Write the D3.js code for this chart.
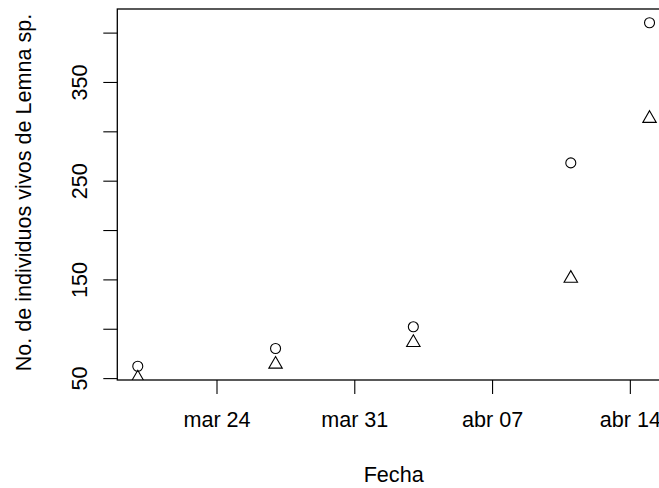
<!DOCTYPE html>
<html>
<head>
<meta charset="utf-8">
<script src="https://cdn.jsdelivr.net/npm/d3@7"></script>
<style>
  html, body { margin: 0; padding: 0; background: #fff; }
  svg { display: block; }
  text { font-family: "Liberation Sans", Arial, Helvetica, sans-serif; fill: #000; }
</style>
</head>
<body>
<svg id="chart" width="659" height="488"></svg>
<script>
// ---- data ----
const dates = ["2022-03-20", "2022-03-27", "2022-04-03", "2022-04-11", "2022-04-15"];
const circleValues = [62, 80, 102, 268, 410];
const triangleValues = [50, 64, 86, 151, 313];
const xTickDates = ["2022-03-24", "2022-03-31", "2022-04-07", "2022-04-14"];
const yTicks = [50, 100, 150, 200, 250, 300, 350, 400];
const yTickLabels = ["50", "", "150", "", "250", "", "350", ""];
const xTitle = "Fecha";
const yTitle = "No. de individuos vivos de Lemna sp.";

// ---- layout ----
const mLeft = 117.3, mRight = 670, mTop = 9, mBottom = 380;
const fontSize = 21.6;
const ptR = 5;

const parse = d3.timeParse("%Y-%m-%d");
const es = d3.timeFormatLocale({
  dateTime: "%A, %e de %B de %Y, %X", date: "%d/%m/%Y", time: "%H:%M:%S",
  periods: ["AM", "PM"],
  days: ["domingo","lunes","martes","miércoles","jueves","viernes","sábado"],
  shortDays: ["dom","lun","mar","mié","jue","vie","sáb"],
  months: ["enero","febrero","marzo","abril","mayo","junio","julio","agosto","septiembre","octubre","noviembre","diciembre"],
  shortMonths: ["ene","feb","mar","abr","may","jun","jul","ago","sep","oct","nov","dic"]
});
const fmt = es.format("%b %d");

const xs = dates.map(parse);
const xExt = d3.extent(xs);
const xPad = (xExt[1] - xExt[0]) * 0.04;
const x = d3.scaleTime()
  .domain([new Date(+xExt[0] - xPad), new Date(+xExt[1] + xPad)])
  .range([mLeft, mRight]);

const yExt = d3.extent(circleValues);
const yPad = (yExt[1] - yExt[0]) * 0.04;
const y = d3.scaleLinear()
  .domain([yExt[0] - yPad, yExt[1] + yPad])
  .range([mBottom, mTop]);

const svg = d3.select("#chart");

svg.append("defs").append("clipPath").attr("id", "plotclip")
  .append("rect").attr("x", mLeft).attr("y", mTop)
  .attr("width", mRight - mLeft).attr("height", mBottom - mTop);

// box
svg.append("rect")
  .attr("x", mLeft).attr("y", mTop)
  .attr("width", mRight - mLeft).attr("height", mBottom - mTop)
  .attr("fill", "none").attr("stroke", "#000").attr("stroke-width", 1.3);

// x axis
const xAxis = d3.axisBottom(x)
  .tickValues(xTickDates.map(parse))
  .tickFormat(fmt)
  .tickSizeInner(14).tickSizeOuter(0).tickPadding(18);
const gx = svg.append("g").attr("transform", `translate(0,${mBottom})`).call(xAxis);
gx.select(".domain").remove();
gx.selectAll(".tick line").attr("stroke", "#000").attr("stroke-width", 1.1);
gx.selectAll(".tick text").attr("font-size", fontSize).attr("font-family", "Liberation Sans, Arial, sans-serif");

// y axis
const yAxis = d3.axisLeft(y)
  .tickValues(yTicks)
  .tickFormat((d, i) => yTickLabels[i])
  .tickSizeInner(14).tickSizeOuter(0);
const gy = svg.append("g").attr("transform", `translate(${mLeft},0)`).call(yAxis);
gy.select(".domain").remove();
gy.selectAll(".tick line").attr("stroke", "#000").attr("stroke-width", 1.1);
gy.selectAll(".tick text")
  .attr("font-size", fontSize)
  .attr("font-family", "Liberation Sans, Arial, sans-serif")
  .attr("text-anchor", "middle")
  .attr("dy", 0)
  .attr("x", 0)
  .attr("transform", `translate(${87 - mLeft},0) rotate(-90)`);

// axis titles
svg.append("text")
  .attr("x", (mLeft + mRight) / 2).attr("y", 481.5)
  .attr("text-anchor", "middle")
  .attr("font-size", fontSize)
  .text(xTitle);

svg.append("text")
  .attr("transform", `translate(31,${(mTop + mBottom) / 2 - 2}) rotate(-90)`)
  .attr("text-anchor", "middle")
  .attr("font-size", fontSize)
  .text(yTitle);

// points
const plot = svg.append("g").attr("clip-path", "url(#plotclip)");

plot.selectAll("circle.c")
  .data(xs.map((d, i) => ({ d, v: circleValues[i] })))
  .join("circle").attr("class", "c")
  .attr("cx", p => x(p.d)).attr("cy", p => y(p.v)).attr("r", ptR)
  .attr("fill", "none").attr("stroke", "#000").attr("stroke-width", 1.1);

const TRC0 = Math.sqrt(4 * Math.PI / (3 * Math.sqrt(3)));
const TRC1 = TRC0 * Math.sqrt(3) / 2;
const TRC2 = TRC0 / 2;
plot.selectAll("path.t")
  .data(xs.map((d, i) => ({ d, v: triangleValues[i] })))
  .join("path").attr("class", "t")
  .attr("d", p => {
    const cx = x(p.d), cy = y(p.v);
    const r = TRC0 * ptR, xc = TRC1 * ptR, yc = TRC2 * ptR;
    return `M${cx},${cy - r}L${cx + xc},${cy + yc}L${cx - xc},${cy + yc}Z`;
  })
  .attr("fill", "none").attr("stroke", "#000").attr("stroke-width", 1.1);
</script>
</body>
</html>
